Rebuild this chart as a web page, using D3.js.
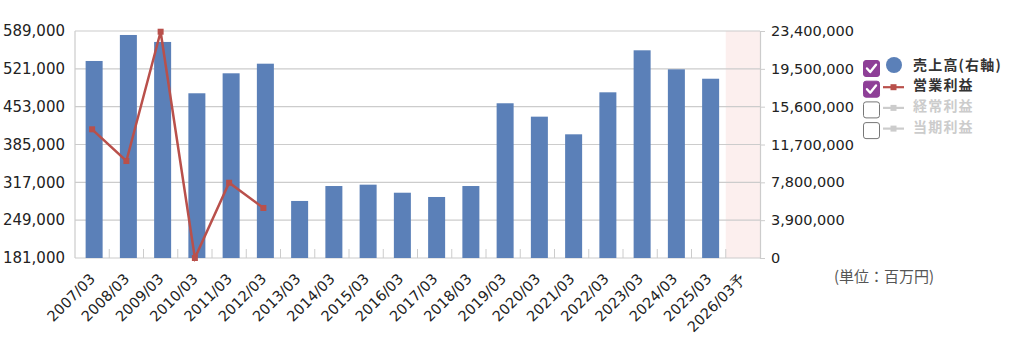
<!DOCTYPE html>
<html lang="ja">
<head>
<meta charset="utf-8">
<title>売上高・営業利益</title>
<script src="https://d3js.org/d3.v7.min.js"></script>
<style>
  body { margin: 0; background: #fff; }
  svg text { font-family: "Noto Sans CJK JP", "Noto Sans", sans-serif; }
  svg text.num { font-family: "DejaVu Sans", sans-serif; }
</style>
</head>
<body>
<div id="chart"></div>
<script>
// categories and values (百万円)
const years = ["2007/03","2008/03","2009/03","2010/03","2011/03","2012/03","2013/03","2014/03","2015/03","2016/03",
  "2017/03","2018/03","2019/03","2020/03","2021/03","2022/03","2023/03","2024/03","2025/03","2026/03予"];
const sales = [20310000,22990000,22270000,16980000,19040000,20030000,5880000,7420000,7560000,6730000,
  6290000,7420000,15950000,14570000,12750000,17080000,21410000,19450000,18480000,null];
const opProfit = [412300,355300,587700,181000,316300,270900,null,null,null,null,
  null,null,null,null,null,null,null,null,null,null];
const leftTicks = [181000,249000,317000,385000,453000,521000,589000];
const rightTicks = [0,3900000,7800000,11700000,15600000,19500000,23400000];
const legendItems = [
  { name: "売上高(右軸)", on: true, kind: "dot", color: "#5b80b8" },
  { name: "営業利益", on: true, kind: "line", color: "#b9504b" },
  { name: "経常利益", on: false, kind: "line", color: "#ccc" },
  { name: "当期利益", on: false, kind: "line", color: "#ccc" }
];

const W = 1024, H = 349;
const margin = { top: 31, right: 264, bottom: 91, left: 75 };
const width = W - margin.left - margin.right,
      height = H - margin.top - margin.bottom;

const svg = d3.select("#chart").append("svg")
  .attr("width", W).attr("height", H);
const g = svg.append("g")
  .attr("transform", `translate(${margin.left},${margin.top})`);

const x = d3.scaleBand().domain(years).range([0, width]);
const yL = d3.scaleLinear().domain([181000, 589000]).range([height, 0]);
const yR = d3.scaleLinear().domain([0, 23400000]).range([height, 0]);

// forecast shading
g.append("rect")
  .attr("x", x("2026/03予")).attr("y", 0)
  .attr("width", x.bandwidth()).attr("height", height)
  .attr("fill", "#fcefee");

// gridlines
g.selectAll(".grid").data(leftTicks).enter().append("line")
  .attr("x1", 0).attr("x2", width)
  .attr("y1", d => yL(d)).attr("y2", d => yL(d))
  .attr("stroke", "#ccc").attr("stroke-width", 1.2);

// small ticks between categories
g.selectAll(".xtick").data(years.slice(1)).enter().append("line")
  .attr("x1", d => x(d)).attr("x2", d => x(d))
  .attr("y1", height - 9).attr("y2", height)
  .attr("stroke", "#ccc").attr("stroke-width", 1);

// bars
const barW = 17;
g.selectAll(".bar").data(years.map((d, i) => ({ k: d, v: sales[i] })).filter(d => d.v != null))
  .enter().append("rect")
  .attr("x", d => x(d.k) + x.bandwidth() / 2 - barW / 2 + 2)
  .attr("y", d => yR(d.v))
  .attr("width", barW)
  .attr("height", d => height - yR(d.v))
  .attr("fill", "#5b80b8");

// left and right axis lines
g.append("line").attr("x1", 0).attr("x2", 0).attr("y1", 0).attr("y2", height)
  .attr("stroke", "#ccc").attr("stroke-width", 1.2);

const axL = g.append("g")
  .call(d3.axisLeft(yL).tickValues(leftTicks).tickSize(0).tickPadding(10).tickFormat(d3.format(",")));
axL.select(".domain").remove();
axL.selectAll("text").attr("class", "num").attr("font-size", 15).attr("fill", "#222");

const axR = g.append("g").attr("transform", `translate(${width},0)`)
  .call(d3.axisRight(yR).tickValues(rightTicks).tickSize(5).tickPadding(6).tickFormat(d3.format(",")));
axR.select(".domain").attr("stroke", "#ccc").attr("stroke-width", 1.2);
axR.selectAll(".tick line").attr("stroke", "#ccc");
axR.selectAll("text").attr("class", "num").attr("font-size", 14.5).attr("fill", "#222");

// operating profit line
const pts = years.map((d, i) => ({ k: d, v: opProfit[i] })).filter(d => d.v != null);
g.append("path").datum(pts)
  .attr("fill", "none").attr("stroke", "#b9504b").attr("stroke-width", 2.5)
  .attr("d", d3.line().x(d => x(d.k) + x.bandwidth() / 2).y(d => yL(d.v)));
g.selectAll(".mk").data(pts).enter().append("rect")
  .attr("x", d => x(d.k) + x.bandwidth() / 2 - 3)
  .attr("y", d => yL(d.v) - 3)
  .attr("width", 6).attr("height", 6)
  .attr("fill", "#b9504b");

// x labels
g.selectAll(".xl").data(years).enter().append("text")
  .attr("class", "num")
  .attr("transform", d => `translate(${x(d) + x.bandwidth() / 2 + 1},${height + 19}) rotate(-45)`)
  .attr("text-anchor", "end")
  .attr("dominant-baseline", "middle")
  .attr("font-size", 14.5).attr("fill", "#222")
  .text(d => d);

// unit label
svg.append("text")
  .attr("x", 884).attr("y", 282)
  .attr("text-anchor", "middle")
  .attr("font-size", 15).attr("fill", "#555")
  .text("(単位：百万円)");

// legend
const lg = svg.append("g").attr("transform", "translate(863,60)");
const item = lg.selectAll(".li").data(legendItems).enter().append("g")
  .attr("transform", (d, i) => `translate(0,${i * 20.7})`);
item.append("rect")
  .attr("x", 0.5).attr("y", 0.5).attr("width", 16).attr("height", 16).attr("rx", 2.5)
  .attr("fill", d => d.on ? "#8e3f97" : "#fff")
  .attr("stroke", d => d.on ? "#8e3f97" : "#777").attr("stroke-width", 1);
item.filter(d => d.on).append("path")
  .attr("d", "M4,8.5 L7.2,12 L13,4.8")
  .attr("fill", "none").attr("stroke", "#fff").attr("stroke-width", 2.4)
  .attr("stroke-linecap", "round").attr("stroke-linejoin", "round");
item.filter(d => d.kind === "dot").append("circle")
  .attr("cx", 31).attr("cy", 5).attr("r", 8).attr("fill", d => d.color);
item.filter(d => d.kind === "line").append("line")
  .attr("x1", 20).attr("x2", 41).attr("y1", 6.5).attr("y2", 6.5)
  .attr("stroke", d => d.color).attr("stroke-width", 2.2);
item.filter(d => d.kind === "line").append("rect")
  .attr("x", 27.5).attr("y", 3.5).attr("width", 6).attr("height", 6)
  .attr("fill", d => d.color);
item.append("text")
  .attr("x", 50).attr("y", 6)
  .attr("dominant-baseline", "middle")
  .attr("font-size", 14).attr("font-weight", "bold")
  .attr("letter-spacing", 1.2)
  .attr("fill", d => d.on ? "#333" : "#ccc")
  .text(d => d.name);
</script>
</body>
</html>
